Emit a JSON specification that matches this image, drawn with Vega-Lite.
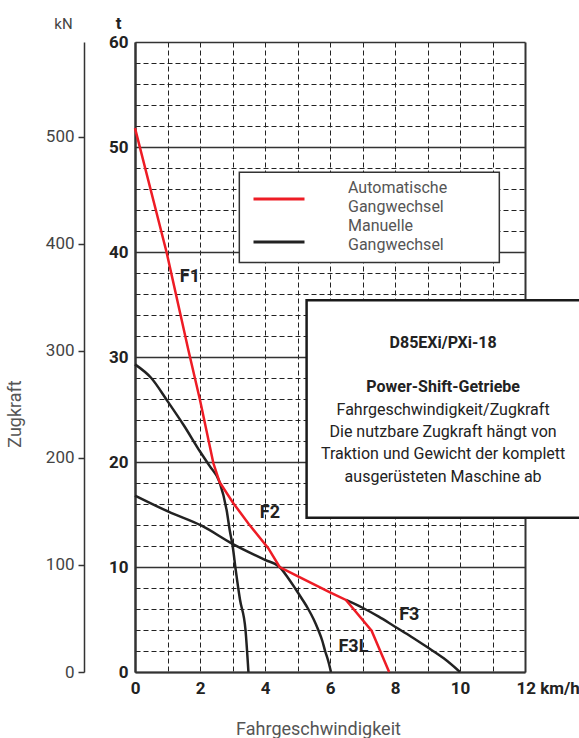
{
  "$schema": "https://vega.github.io/schema/vega-lite/v6.json",
  "width": 390,
  "height": 630,
  "autosize": {"type": "none"},
  "padding": {"left": 135, "top": 42, "right": 54, "bottom": 66},
  "config": {
    "view": {"stroke": null},
    "font": "Roboto",
    "style": {"guide-label": {"lineHeight": 19}},
    "legend": {
      "orient": "none",
      "legendX": 117,
      "legendY": 130,
      "padding": 0,
      "symbolType": "stroke",
      "symbolSize": 2601,
      "symbolStrokeWidth": 3,
      "labelOffset": 42,
      "labelFontSize": 16,
      "labelColor": "#555555",
      "labelFont": "Roboto",
      "labelLimit": 0,
      "rowPadding": -20
    }
  },
  "title": {
    "text": "Zugkraft",
    "orient": "left",
    "anchor": "middle",
    "fontSize": 18,
    "fontWeight": "normal",
    "color": "#555555",
    "font": "Roboto",
    "offset": 10,
    "dx": -57,
    "dy": -10
  },
  "datasets": {
    "curves": [
      {"Serie": "Manuelle Gangwechsel", "Gang": "M1", "v": 0, "t": 29.3},
      {"Serie": "Manuelle Gangwechsel", "Gang": "M1", "v": 0.5, "t": 28.0},
      {"Serie": "Manuelle Gangwechsel", "Gang": "M1", "v": 1.0, "t": 25.8},
      {"Serie": "Manuelle Gangwechsel", "Gang": "M1", "v": 1.5, "t": 23.5},
      {"Serie": "Manuelle Gangwechsel", "Gang": "M1", "v": 2.0, "t": 21.0},
      {"Serie": "Manuelle Gangwechsel", "Gang": "M1", "v": 2.3, "t": 19.6},
      {"Serie": "Manuelle Gangwechsel", "Gang": "M1", "v": 2.6, "t": 18.1},
      {"Serie": "Manuelle Gangwechsel", "Gang": "M1", "v": 2.82, "t": 15.4},
      {"Serie": "Manuelle Gangwechsel", "Gang": "M1", "v": 2.92, "t": 13.4},
      {"Serie": "Manuelle Gangwechsel", "Gang": "M1", "v": 3.0, "t": 12.1},
      {"Serie": "Manuelle Gangwechsel", "Gang": "M1", "v": 3.1, "t": 9.7},
      {"Serie": "Manuelle Gangwechsel", "Gang": "M1", "v": 3.23, "t": 6.9},
      {"Serie": "Manuelle Gangwechsel", "Gang": "M1", "v": 3.4, "t": 4.0},
      {"Serie": "Manuelle Gangwechsel", "Gang": "M1", "v": 3.49, "t": 0},
      {"Serie": "Manuelle Gangwechsel", "Gang": "M2", "v": 0, "t": 16.8},
      {"Serie": "Manuelle Gangwechsel", "Gang": "M2", "v": 1.03, "t": 15.27},
      {"Serie": "Manuelle Gangwechsel", "Gang": "M2", "v": 2.05, "t": 13.93},
      {"Serie": "Manuelle Gangwechsel", "Gang": "M2", "v": 3.0, "t": 12.2},
      {"Serie": "Manuelle Gangwechsel", "Gang": "M2", "v": 4.0, "t": 10.67},
      {"Serie": "Manuelle Gangwechsel", "Gang": "M2", "v": 4.45, "t": 10.0},
      {"Serie": "Manuelle Gangwechsel", "Gang": "M2", "v": 4.7, "t": 9.0},
      {"Serie": "Manuelle Gangwechsel", "Gang": "M2", "v": 4.92, "t": 8.0},
      {"Serie": "Manuelle Gangwechsel", "Gang": "M2", "v": 5.13, "t": 7.0},
      {"Serie": "Manuelle Gangwechsel", "Gang": "M2", "v": 5.33, "t": 6.0},
      {"Serie": "Manuelle Gangwechsel", "Gang": "M2", "v": 5.5, "t": 5.0},
      {"Serie": "Manuelle Gangwechsel", "Gang": "M2", "v": 5.64, "t": 4.0},
      {"Serie": "Manuelle Gangwechsel", "Gang": "M2", "v": 5.76, "t": 3.0},
      {"Serie": "Manuelle Gangwechsel", "Gang": "M2", "v": 5.85, "t": 2.0},
      {"Serie": "Manuelle Gangwechsel", "Gang": "M2", "v": 5.95, "t": 1.0},
      {"Serie": "Manuelle Gangwechsel", "Gang": "M2", "v": 6.03, "t": 0},
      {"Serie": "Manuelle Gangwechsel", "Gang": "M3", "v": 6.49, "t": 6.86},
      {"Serie": "Manuelle Gangwechsel", "Gang": "M3", "v": 7.0, "t": 6.12},
      {"Serie": "Manuelle Gangwechsel", "Gang": "M3", "v": 7.5, "t": 5.27},
      {"Serie": "Manuelle Gangwechsel", "Gang": "M3", "v": 8.0, "t": 4.31},
      {"Serie": "Manuelle Gangwechsel", "Gang": "M3", "v": 8.5, "t": 3.36},
      {"Serie": "Manuelle Gangwechsel", "Gang": "M3", "v": 9.0, "t": 2.35},
      {"Serie": "Manuelle Gangwechsel", "Gang": "M3", "v": 9.5, "t": 1.3},
      {"Serie": "Manuelle Gangwechsel", "Gang": "M3", "v": 10.0, "t": 0},
      {"Serie": "Automatische Gangwechsel", "Gang": "A", "v": 0, "t": 51.8},
      {"Serie": "Automatische Gangwechsel", "Gang": "A", "v": 0.97, "t": 40.0},
      {"Serie": "Automatische Gangwechsel", "Gang": "A", "v": 1.64, "t": 30.7},
      {"Serie": "Automatische Gangwechsel", "Gang": "A", "v": 2.0, "t": 25.9},
      {"Serie": "Automatische Gangwechsel", "Gang": "A", "v": 2.41, "t": 19.9},
      {"Serie": "Automatische Gangwechsel", "Gang": "A", "v": 2.6, "t": 18.1},
      {"Serie": "Automatische Gangwechsel", "Gang": "A", "v": 3.02, "t": 16.1},
      {"Serie": "Automatische Gangwechsel", "Gang": "A", "v": 3.5, "t": 14.1},
      {"Serie": "Automatische Gangwechsel", "Gang": "A", "v": 4.1, "t": 11.8},
      {"Serie": "Automatische Gangwechsel", "Gang": "A", "v": 4.45, "t": 10.0},
      {"Serie": "Automatische Gangwechsel", "Gang": "A", "v": 5.0, "t": 9.14},
      {"Serie": "Automatische Gangwechsel", "Gang": "A", "v": 6.0, "t": 7.59},
      {"Serie": "Automatische Gangwechsel", "Gang": "A", "v": 6.49, "t": 6.86},
      {"Serie": "Automatische Gangwechsel", "Gang": "A", "v": 7.28, "t": 3.93},
      {"Serie": "Automatische Gangwechsel", "Gang": "A", "v": 7.82, "t": 0}
    ],
    "gears": [
      {"label": "F1", "v": 1.69, "t": 37.6},
      {"label": "F2", "v": 4.15, "t": 15.1},
      {"label": "F3", "v": 8.44, "t": 5.43},
      {"label": "F3L", "v": 6.72, "t": 2.4}
    ],
    "boxHead": [
      {"text": "D85EXi/PXi-18", "v": 9.48, "t": 31.3},
      {"text": "Power-Shift-Getriebe", "v": 9.48, "t": 27.17}
    ],
    "boxBody": [
      {"text": "Fahrgeschwindigkeit/Zugkraft", "v": 9.48, "t": 25.0},
      {"text": "Die nutzbare Zugkraft hängt von", "v": 9.48, "t": 22.9},
      {"text": "Traktion und Gewicht der komplett", "v": 9.48, "t": 20.8},
      {"text": "ausgerüsteten Maschine ab", "v": 9.48, "t": 18.6}
    ],
    "kn": [{"kN": 0}, {"kN": 500}]
  },
  "resolve": {"scale": {"y": "independent"}},
  "layer": [
    {
      "data": {"name": "kn"},
      "mark": {"type": "point", "opacity": 0},
      "encoding": {
        "y": {
          "field": "kN",
          "type": "quantitative",
          "scale": {"domain": [0, 588.6], "nice": false, "zero": true},
          "axis": {
            "orient": "left",
            "offset": 51,
            "values": [0, 100, 200, 300, 400, 500],
            "tickCount": 100,
            "labelExpr": "format(datum.value, 'd')",
            "title": "kN",
            "titleAngle": 0,
            "titleAlign": "center",
            "titleBaseline": "alphabetic",
            "titleX": -21,
            "titleY": -14,
            "titleFontSize": 15,
            "titleFontWeight": "normal",
            "titleColor": "#444444",
            "titleFont": "Roboto",
            "domainColor": "#333333",
            "domainWidth": 1.5,
            "tickColor": "#333333",
            "tickWidth": 1.5,
            "tickSize": 6,
            "labelFontSize": 17,
            "labelColor": "#444444",
            "labelPadding": 4,
            "labelFlush": false,
            "labelOverlap": false,
            "grid": false
          }
        }
      }
    },
    {
      "layer": [
        {
          "data": {"values": [{}]},
          "mark": {"type": "rect", "fill": "white", "stroke": "#333333", "strokeWidth": 1.5},
          "encoding": {
            "x": {"datum": 3.21, "type": "quantitative"},
            "x2": {"datum": 11.21},
            "y": {"datum": 47.6, "type": "quantitative"},
            "y2": {"datum": 39.0}
          }
        },
        {
          "data": {"values": [{}]},
          "mark": {"type": "rect", "fill": "white", "stroke": "#1a1a1a", "strokeWidth": 2.5},
          "encoding": {
            "x": {"datum": 5.28, "type": "quantitative"},
            "x2": {"datum": 14},
            "y": {"datum": 35.4, "type": "quantitative"},
            "y2": {"datum": 14.7}
          }
        },
        {
          "data": {"name": "curves"},
          "transform": [{"filter": "datum.Serie === 'Manuelle Gangwechsel'"}],
          "mark": {"type": "line", "strokeWidth": 2.5, "interpolate": "monotone"},
          "encoding": {
            "x": {
              "field": "v",
              "type": "quantitative",
              "scale": {"domain": [0, 12], "nice": false},
              "axis": {
                "values": [0, 1, 2, 3, 4, 5, 6, 7, 8, 9, 10, 11, 12],
                "tickCount": 100,
                "labelExpr": "datum.value % 2 === 0 ? (datum.value === 12 ? '12 km/h' : format(datum.value, 'd')) : ''",
                "labelAlign": {"condition": {"test": "datum.value === 12", "value": "left"}, "value": "center"},
                "labelOffset": {"condition": {"test": "datum.value === 12", "value": -9}, "value": 0},
                "labelFontSize": 17,
                "labelFontWeight": "bold",
                "labelColor": "#222222",
                "labelPadding": 8,
                "labelFlush": false,
                "labelOverlap": false,
                "ticks": false,
                "domainColor": "#333333",
                "domainWidth": 2,
                "grid": true,
                "gridColor": {"condition": {"test": "datum.value === 0 || datum.value === 12", "value": "#333333"}, "value": "#222222"},
                "gridWidth": {"condition": {"test": "datum.value === 0 || datum.value === 12", "value": 2}, "value": 1},
                "gridDash": {"condition": {"test": "datum.value === 0 || datum.value === 12", "value": []}, "value": [5, 3]},
                "title": "Fahrgeschwindigkeit",
                "titleFontSize": 18,
                "titleFontWeight": "normal",
                "titleColor": "#555555",
                "titleX": 183,
                "titleY": 62,
                "titleBaseline": "alphabetic"
              }
            },
            "y": {
              "field": "t",
              "type": "quantitative",
              "scale": {"domain": [0, 60], "nice": false},
              "axis": {
                "orient": "left",
                "values": [0, 2, 4, 6, 8, 10, 12, 14, 16, 18, 20, 22, 24, 26, 28, 30, 32, 34, 36, 38, 40, 42, 44, 46, 48, 50, 52, 54, 56, 58, 60],
                "tickCount": 100,
                "labelExpr": "datum.value % 10 === 0 ? format(datum.value, 'd') : ''",
                "labelFontSize": 17,
                "labelFontWeight": "bold",
                "labelColor": "#222222",
                "labelPadding": 7,
                "labelFlush": false,
                "labelOverlap": false,
                "ticks": false,
                "domainColor": "#333333",
                "domainWidth": 2,
                "grid": true,
                "gridColor": {"condition": {"test": "datum.value % 10 === 0", "value": "#333333"}, "value": "#222222"},
                "gridWidth": {"condition": {"test": "datum.value % 10 === 0", "value": 1.5}, "value": 1},
                "gridDash": {"condition": {"test": "datum.value % 10 === 0", "value": []}, "value": [5, 3]},
                "title": "t",
                "titleAngle": 0,
                "titleAlign": "center",
                "titleBaseline": "alphabetic",
                "titleX": -17,
                "titleY": -14,
                "titleFontSize": 17,
                "titleFontWeight": "bold",
                "titleColor": "#222222"
              }
            },
            "color": {
              "field": "Serie",
              "type": "nominal",
              "scale": {"domain": ["Automatische Gangwechsel", "Manuelle Gangwechsel"], "range": ["#ee1c25", "#222222"]},
              "legend": {
                "title": null,
                "labelExpr": "split(datum.label, ' ')",
                "encode": {"labels": {"update": {"dy": {"signal": "datum.index === 0 ? -11 : -16"}}}}
              }
            },
            "detail": {"field": "Gang"}
          }
        },
        {
          "data": {"name": "curves"},
          "transform": [{"filter": "datum.Serie === 'Automatische Gangwechsel'"}],
          "mark": {"type": "line", "strokeWidth": 2.5},
          "encoding": {
            "x": {"field": "v", "type": "quantitative"},
            "y": {"field": "t", "type": "quantitative"},
            "color": {"field": "Serie", "type": "nominal"},
            "detail": {"field": "Gang"}
          }
        },
        {
          "data": {"name": "gears"},
          "mark": {"type": "text", "fontSize": 18, "fontWeight": "bold", "color": "#222222", "align": "center", "baseline": "middle"},
          "encoding": {
            "x": {"field": "v", "type": "quantitative"},
            "y": {"field": "t", "type": "quantitative"},
            "text": {"field": "label"}
          }
        },
        {
          "data": {"name": "boxHead"},
          "mark": {"type": "text", "fontSize": 16, "fontWeight": "bold", "color": "#222222", "align": "center", "baseline": "middle"},
          "encoding": {
            "x": {"field": "v", "type": "quantitative"},
            "y": {"field": "t", "type": "quantitative"},
            "text": {"field": "text"}
          }
        },
        {
          "data": {"name": "boxBody"},
          "mark": {"type": "text", "fontSize": 16, "color": "#222222", "align": "center", "baseline": "middle"},
          "encoding": {
            "x": {"field": "v", "type": "quantitative"},
            "y": {"field": "t", "type": "quantitative"},
            "text": {"field": "text"}
          }
        }
      ]
    }
  ]
}
